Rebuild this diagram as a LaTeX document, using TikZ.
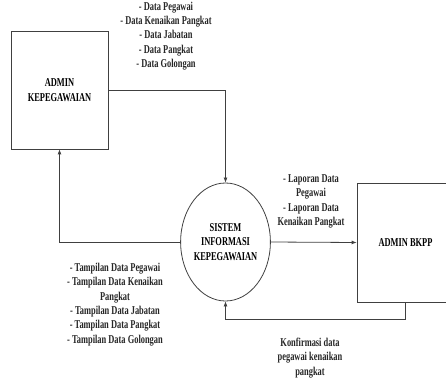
\documentclass[tikz,border=0pt]{standalone}
\usepackage{fontspec}
\setmainfont{Liberation Serif}[FakeStretch=0.7]
\usetikzlibrary{arrows.meta,shapes.geometric}
\tikzset{
  entity/.style={draw=black!75, line width=0.8pt, rectangle, minimum width=97pt, minimum height=118pt, align=center},
  process/.style={draw=black!75, line width=0.8pt, ellipse, minimum width=83pt, minimum height=118pt, inner sep=0pt, align=center},
  flow/.style={draw=black!75, line width=0.8pt, -{Latex[length=5pt,width=4pt]}},
  lbl/.style={align=center, text=black!85, inner sep=0pt}
}
\begin{document}
\begin{tikzpicture}[x=1pt,y=-1pt, every node/.append style={font=\fontsize{12}{14.3}\selectfont\bfseries}]
		\useasboundingbox (0,0) rectangle (446,379);
		\clip (0,0) rectangle (446,379);

		\node[entity] (admin) at (59.5,90) {ADMIN\\KEPEGAWAIAN};
		\node[process] (sistem) at (225.5,242) {SISTEM\\INFORMASI\\KEPEGAWAIAN};
		\node[entity, minimum height=119pt] (bkpp) at (405.5,242.5) {ADMIN BKPP};

		\draw[flow] (admin.east) -| (sistem.north);
		\draw[flow] (sistem.west) -| (admin.south);
		\draw[flow] (sistem.east) -- (bkpp.west);
		\draw[flow] (bkpp.south) -- ++(0,17) -| (sistem.south);

		\node[lbl] (datain) at (166,36) {- Data Pegawai\\- Data Kenaikan Pangkat\\- Data Jabatan\\- Data Pangkat\\- Data Golongan};
		\node[lbl] (laporan) at (311,201.5) {- Laporan Data\\Pegawai\\- Laporan Data\\Kenaikan Pangkat};
		\node[lbl] (tampilan) at (115,304.5) {- Tampilan Data Pegawai\\- Tampilan Data Kenaikan\\Pangkat\\- Tampilan Data Jabatan\\- Tampilan Data Pangkat\\- Tampilan Data Golongan};
		\node[lbl] (konfirmasi) at (310,358) {Konfirmasi data\\pegawai kenaikan\\pangkat};
	\end{tikzpicture}
\end{document}
